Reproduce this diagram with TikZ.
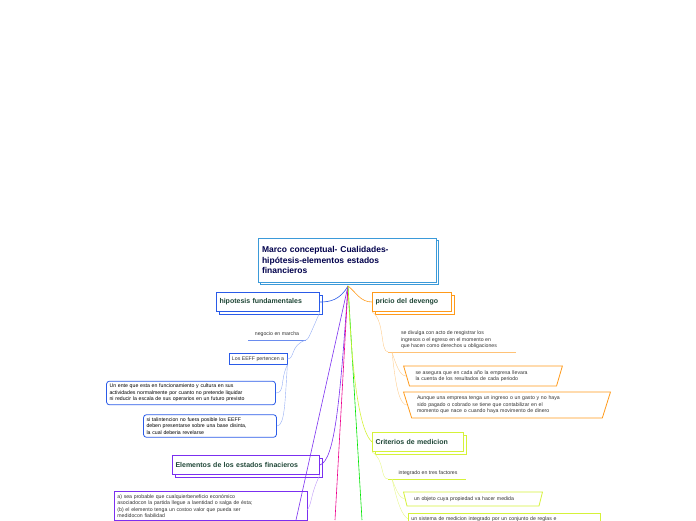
\documentclass[tikz,border=0pt]{standalone}
\usepackage{fontspec}
\setmainfont{Liberation Sans}
\usetikzlibrary{positioning,shapes.geometric,calc,shadows}
\definecolor{titleblue}{HTML}{3B9AD9}
\definecolor{hypblue}{HTML}{2A5BE8}
\definecolor{elpurple}{HTML}{7B2FF0}
\definecolor{devorange}{HTML}{FF9A1A}
\definecolor{critgreen}{HTML}{D5F23A}
\definecolor{txtdark}{HTML}{1E4636}
\begin{document}
\begin{tikzpicture}[x=1pt,y=-1pt,
    topic/.style={draw=#1, line width=0.8pt, fill=white, font=\fontsize{7}{8}\selectfont\bfseries, text=txtdark,
        minimum height=19pt, inner xsep=3pt, align=left, copy shadow={shadow xshift=2.5pt, shadow yshift=-2.5pt, draw=#1, fill=white}},
    note/.style={draw=#1, line width=0.8pt, fill=white, rounded corners=3pt, font=\fontsize{5.2}{6.4}\selectfont, align=left, inner sep=3pt},
    plain/.style={font=\fontsize{5.2}{6.4}\selectfont, align=left, inner sep=2pt, text=black!80},
    trap/.style={draw=#1, line width=0.8pt, fill=white, trapezium, shape border rotate=180, trapezium stretches=true,
        trapezium left angle=70, trapezium right angle=70, font=\fontsize{5.2}{6.4}\selectfont, align=left, inner sep=2pt, text=black!80},
    branch/.style={line width=0.6pt, draw=#1}]
\useasboundingbox (0,0) rectangle (696,520);
% Central topic
\node[draw=titleblue, line width=0.8pt, fill=white, minimum width=178pt, minimum height=44pt, text width=170pt, align=left,
    font=\fontsize{8.5}{10.5}\selectfont\bfseries, text=black!70!blue,
    copy shadow={shadow xshift=2.5pt, shadow yshift=-2.5pt, draw=titleblue, fill=white}]
    (title) at (347,260) {Marco conceptual- Cualidades-\\hipótesis-elementos estados\\financieros};
\coordinate (hub) at (348,286);
% Left: hipotesis
\node[topic=hypblue, text width=97pt] (hip) at (268,302) {hipotesis fundamentales};
\node[plain] (neg) at (277,334) {negocio en marcha};
\node[draw=hypblue, line width=0.8pt, fill=white, font=\fontsize{5.2}{6.4}\selectfont, inner sep=3pt, text=black!80] (eeff) at (258,359) {Los EEFF pertencen a};
\node[note=hypblue, text width=163pt] (ente) at (191,393) {Un ente que esta en funcionamiento y cultura en sus\\actividades normalmente por cuanto no pretende liquidar\\ni reducir la escala de sus operarios en un futuro previsto};
\node[note=hypblue, text width=127pt] (tal) at (210,426) {si talintencion no fuera posible los EEFF\\deben presentarse sobre una base disinta,\\la cual deberia revelarse};
\draw[branch=hypblue] (hub) .. controls (340,300) and (330,302) .. (hip.east);
\draw[hypblue!70, line width=0.6pt] (248,340) -- (306,340);
\draw[hypblue!50, line width=0.4pt] (hip.south east) .. controls (310,335) and (308,340) .. (306,340);
\draw[hypblue!50, line width=0.4pt] (306,340) .. controls (290,345) and (295,359) .. (eeff.east);
\draw[hypblue!50, line width=0.4pt] (eeff.south east) .. controls (280,380) and (285,393) .. (ente.east);
\draw[hypblue!50, line width=0.4pt] (eeff.south east) .. controls (285,400) and (285,426) .. (tal.east);
% Left: elementos
\node[topic=elpurple, text width=141pt] (elem) at (246,465) {Elementos de los estados finacieros};
\node[draw=elpurple, line width=0.8pt, fill=white, font=\fontsize{5.2}{6.4}\selectfont, align=left, inner sep=3pt, text width=187pt, anchor=north west, text=black!80] (prob) at (114,491) {a) sea probable que cualquierbeneficio económico\\asociadocon la partida llegue a laentidad o salga de ésta;\\(b) el elemento tenga un costoo valor que pueda ser\\medidocon fiabilidad};
\draw[branch=elpurple] (hub) .. controls (340,400) and (335,460) .. (elem.east);
\draw[elpurple!50, line width=0.4pt] (elem.south east) .. controls (310,495) and (312,505) .. (307,510);
\draw[branch=elpurple] (hub) -- (296,520);
\draw[branch=magenta] (hub) -- (335,520);
\draw[branch=green!90!black] (hub) -- (362,520);
% Right: devengo
\node[topic=devorange, text width=73pt] (dev) at (412,302) {pricio del devengo};
\node[plain] (divulga) at (449,340) {se divulga con acto de resgistrar los\\ingresos o el egreso en el momento en\\que hacen como derechos u obligaciones};
\draw[devorange!60, line width=0.6pt] (388,352) -- (516,352);
\node[trap=devorange, minimum width=159pt, minimum height=20pt, text width=135pt] (asegura) at (483,376) {se asegura que en cada año la empresa llevara\\la cuenta de los resultados de cada periodo};
\node[trap=devorange, minimum width=207pt, minimum height=26pt, text width=180pt] (aunque) at (507,405) {Aunque una empresa tenga un ingreso o un gasto y no haya\\sido pagado o cobrado se tiene que contabilizar en el\\momento que nace o cuando haya movimento de dinero};
\draw[branch=devorange] (hub) .. controls (356,292) and (360,302) .. (dev.west);
\draw[devorange!50, line width=0.4pt] (dev.south west) .. controls (385,320) and (380,352) .. (388,352);
\draw[devorange!50, line width=0.4pt] (392,352) .. controls (396,365) and (400,376) .. (asegura.west);
\draw[devorange!50, line width=0.4pt] (392,352) .. controls (396,390) and (400,405) .. (aunque.west);
% Right: criterios
\node[topic=critgreen, text width=85pt] (crit) at (418,442) {Criterios de medicion};
\node[plain] (integ) at (428,473) {integrado en tres factores};
\draw[critgreen, line width=0.6pt] (388,479) -- (466,479);
\node[trap=critgreen, minimum width=139pt, minimum height=14pt, text width=118pt] (objeto) at (473,499) {un objeto cuya propiedad va hacer medida};
\node[draw=critgreen, line width=0.8pt, fill=white, font=\fontsize{5.2}{6.4}\selectfont, anchor=north west, inner sep=3pt, text width=186pt, align=left, text=black!80] (sistema) at (408,513) {un sistema de medicion integrado por un conjunto de reglas e};
\draw[branch=critgreen] (hub) .. controls (352,380) and (360,432) .. (crit.west);
\draw[critgreen!60, line width=0.4pt] (crit.south west) .. controls (385,460) and (380,479) .. (388,479);
\draw[critgreen!60, line width=0.4pt] (392,479) .. controls (396,490) and (400,499) .. (objeto.west);
\draw[critgreen!60, line width=0.4pt] (392,479) .. controls (398,505) and (402,515) .. (sistema.west);
\end{tikzpicture}
\end{document}
